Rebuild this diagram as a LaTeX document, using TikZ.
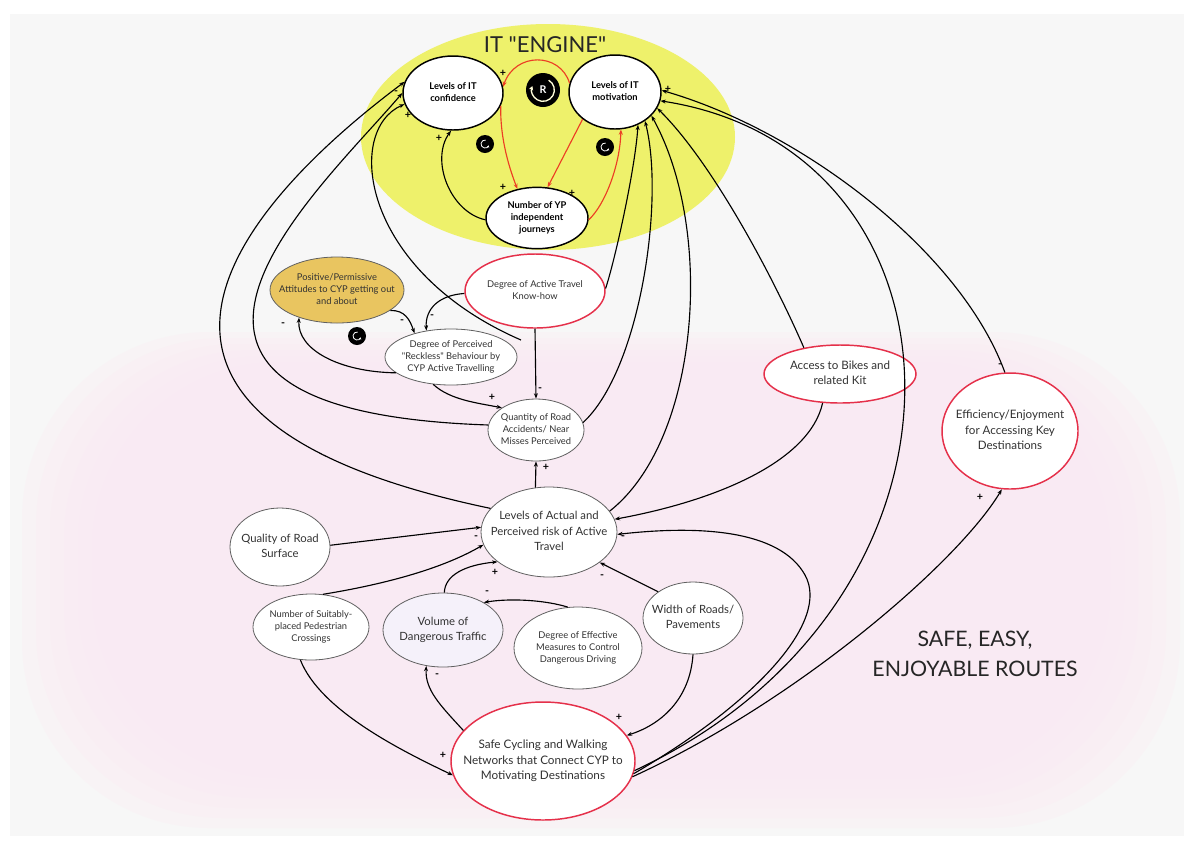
\documentclass[tikz,border=0pt]{standalone}
\usepackage{fontspec}
\setmainfont{Lato}[Ligatures=TeXOff]
\usetikzlibrary{arrows.meta,shapes.geometric}

\definecolor{paper}{RGB}{247,247,247}
\definecolor{pinkglow}{RGB}{252,234,243}
\definecolor{engineyellow}{RGB}{238,241,107}
\definecolor{loopred}{RGB}{236,62,36}
\definecolor{rimred}{RGB}{229,48,74}
\definecolor{goldfill}{RGB}{233,197,96}
\definecolor{lavfill}{RGB}{245,241,250}
\definecolor{inkgray}{RGB}{50,50,50}

% centred multi-line label that does not widen its ellipse
\newcommand{\nodetext}[1]{\makebox[0pt]{\begin{tabular}{@{}c@{}}#1\end{tabular}}}

\begin{document}
\begin{tikzpicture}[x=0.75pt,y=-0.75pt,
  var/.style={ellipse, draw=gray!75!black, line width=0.6pt, fill=white, inner sep=0pt,
              text=inkgray, font=\fontsize{7}{9}\selectfont},
  engine/.style={var, draw=black, line width=1.1pt, text=black, font=\fontsize{7}{9}\selectfont\bfseries},
  key/.style={var, draw=rimred, line width=1.1pt},
  link/.style={line width=0.85pt, black, -{Stealth[length=4pt,width=3pt]}},
  redlink/.style={link, draw=loopred},
  sign/.style={font=\fontsize{8}{8}\selectfont\bfseries, inner sep=0pt, text=black},
  loopbadge/.pic={
    \fill[black] (0,0) circle (6.75pt);
    \draw[white, line width=0.6pt, -{Stealth[length=1.6pt,width=1.8pt]}]
      (0,0) ++(80:3pt) arc[start angle=80, end angle=340, radius=3pt];
  },
  rbadge/.pic={
    \fill[black] (0,0) circle (12.75pt);
    \draw[white!85!yellow, line width=1pt, -{Stealth[length=3pt,width=3.4pt]}]
      (0,0) ++(60:8.5pt) arc[start angle=60, end angle=-200, radius=8.5pt];
    \node[text=white, font=\fontsize{8}{8}\selectfont\bfseries, inner sep=0pt] at (0,0) {R};
  },
]
\useasboundingbox (0,0) rectangle (1192,844);

% backdrop: paper, soft pink field, yellow engine zone
\fill[white] (0,0) rectangle (1192,844);
\fill[paper] (10,14) rectangle (1184,836);
\foreach \i in {0,...,5}
  \fill[pinkglow, opacity=0.3, rounded corners=140pt]
    (22+14*\i,332+6*\i) rectangle (1180-14*\i,828-10*\i);
\fill[engineyellow] (548,137) ellipse [x radius=140.25pt, y radius=84.75pt];

\node[font=\fontsize{16.5}{16.5}\selectfont, text=black!85, inner sep=0pt] (title) at (545,45) {IT "ENGINE"};
\node[font=\fontsize{16}{22.5}\selectfont, text=black!85, align=center, inner sep=0pt] (routes) at (975,654)
  {SAFE, EASY,\\ENJOYABLE ROUTES};

% ---------- variables ----------
\node[engine, minimum width=75pt, minimum height=55.5pt] (Conf) at (453,93) {\nodetext{Levels of IT\\confidence}};
\node[engine, minimum width=69pt, minimum height=55.5pt] (Mot) at (615,92) {\nodetext{Levels of IT\\motivation}};
\node[engine, minimum width=76.5pt, minimum height=46pt] (Jour) at (537,218) {\nodetext{Number of YP\\independent\\journeys}};

\node[var, fill=goldfill, minimum width=100.5pt, minimum height=49.5pt] (Att) at (337,290)
  {\nodetext{Positive/Permissive\\Attitudes to CYP getting out\\and about}};
\node[key, minimum width=105pt, minimum height=55.5pt] (Know) at (535,291)
  {\nodetext{Degree of Active Travel\\Know-how}};
\node[var, minimum width=99pt, minimum height=42pt] (Reck) at (451,357)
  {\nodetext{Degree of Perceived\\"Reckless" Behaviour by\\CYP Active Travelling}};
\node[var, minimum width=72pt, minimum height=46.5pt] (Acc) at (536,430)
  {\nodetext{Quantity of Road\\Accidents/ Near\\Misses Perceived}};
\node[var, font=\fontsize{8.5}{11.5}\selectfont, minimum width=102pt, minimum height=67.5pt] (Risk) at (549,532)
  {\nodetext{Levels of Actual and\\Perceived risk of Active\\Travel}};
\node[var, font=\fontsize{8.5}{11.5}\selectfont, minimum width=75pt, minimum height=58.5pt] (Surf) at (280,547)
  {\nodetext{Quality of Road\\Surface}};
\node[var, minimum width=87pt, minimum height=49.5pt] (Cross) at (311,627)
  {\nodetext{Number of Suitably-\\placed Pedestrian\\Crossings}};
\node[var, fill=lavfill, font=\fontsize{8.5}{11.5}\selectfont, minimum width=90pt, minimum height=55.5pt] (Vol) at (443,630)
  {\nodetext{Volume of\\Dangerous Traffic}};
\node[var, minimum width=96pt, minimum height=61.5pt] (Meas) at (578,648)
  {\nodetext{Degree of Effective\\Measures to Control\\Dangerous Driving}};
\node[var, font=\fontsize{8.5}{11.5}\selectfont, minimum width=75pt, minimum height=54pt] (Width) at (693,618)
  {\nodetext{Width of Roads/\\Pavements}};
\node[key, font=\fontsize{8.8}{11.5}\selectfont, minimum width=138pt, minimum height=88.5pt] (Net) at (543,761)
  {\nodetext{Safe Cycling and Walking\\Networks that Connect CYP to\\Motivating Destinations}};
\node[key, font=\fontsize{8.7}{11.5}\selectfont, minimum width=114pt, minimum height=43.5pt] (Bikes) at (840,374)
  {\nodetext{Access to Bikes and\\related Kit}};
\node[key, font=\fontsize{8.7}{11.5}\selectfont, minimum width=102pt, minimum height=87pt] (Eff) at (1010,431)
  {\nodetext{Efficiency/Enjoyment\\for Accessing Key\\Destinations}};

\coordinate (reckTail) at (521,340);

% loop badges
\pic at (543,90) {rbadge};
\pic at (485,144) {loopbadge};
\pic at (605,147) {loopbadge};
\pic at (357,336) {loopbadge};

% ---------- engine links ----------
\draw[redlink] (Mot.169) .. controls (560,52) and (515,52) .. (Conf.7);
\draw[redlink] (Conf.345) .. controls (500,140) and (510,170) .. (Jour.124);
\draw[redlink] (Mot.220) -- (Jour.71);
\draw[redlink] (Jour.358) .. controls (605,205) and (620,165) .. (Mot.279);
\draw[link] (Jour.182) .. controls (450,212) and (430,160) .. (Conf.267);

% ---------- into confidence ----------
\draw[link] (Risk.158) .. controls (20,410) and (280,175) .. (Conf.167);
\draw[link] (Acc.174) .. controls (71,411) and (320,190) .. (Conf.180);
\draw[link] (reckTail) .. controls (360,270) and (345,130) .. (Conf.193);

% ---------- into motivation ----------
\draw[link] (Know.2) .. controls (615,260) and (635,170) .. (Mot.305);
\draw[link] (Acc.9) .. controls (640,370) and (665,200) .. (Mot.316);
\draw[link] (Risk.19) .. controls (700,440) and (715,230) .. (Mot.327);
\draw[link] (Bikes.144) .. controls (770,270) and (710,160) .. (Mot.339);
\draw[link] (Eff.95) .. controls (960,250) and (800,130) .. (Mot.2);
\draw[link] (Net.-6) .. controls (1000,600) and (980,150) .. (Mot.349);

% ---------- network links ----------
\draw[link] (Net.-10) .. controls (800,700) and (960,560) .. (Eff.262);
\draw[link] (Net.-8) .. controls (760,700) and (830,620) .. (805,575)
                      .. controls (780,530) and (700,525) .. (Risk.-2);
\draw[link] (Width.south) .. controls (690,700) and (660,725) .. (Net.17);
\draw[link] (Cross.252) .. controls (320,710) and (400,750) .. (Net.189);
\draw[link] (Net.159) .. controls (440,705) and (425,690) .. (Vol.245);

% ---------- risk cluster ----------
\draw[link] (Bikes.239) .. controls (810,460) and (720,500) .. (Risk.11);
\draw[link] (Surf.2) -- (Risk.176);
\draw[link] (Cross.70) .. controls (380,585) and (440,570) .. (Risk.191);
\draw[link] (Vol.88) .. controls (445,575) and (465,565) .. (Risk.210);
\draw[link] (Meas.104) .. controls (545,600) and (510,598) .. (Vol.34);
\draw[link] (Width.143) -- (Risk.-31);
\draw[link] (Risk.107) -- (Acc.south);

% ---------- attitudes / behaviour ----------
\draw[link] (Know.south) -- (Acc.north);
\draw[link] (Reck.237) .. controls (450,400) and (478,403) .. (Acc.147);
\draw[link] (Reck.196) .. controls (340,372) and (297,350) .. (Att.216);
\draw[link] (Att.-21) .. controls (405,310) and (410,320) .. (Reck.147);
\draw[link] (Know.182) .. controls (440,295) and (425,308) .. (Reck.133);

% ---------- polarity marks ----------
\node[sign] (p1) at (503,73) {+};
\node[sign] (p2) at (439,138) {+};
\node[sign] (p3) at (503,187) {+};
\node[sign] (p4) at (572,193) {+};
\node[sign] (p5) at (396,93) {-};
\node[sign] (p6) at (408,115) {+};
\node[sign] (p7) at (283,325) {-};
\node[sign] (p8) at (402,322) {-};
\node[sign] (p9) at (432,317) {-};
\node[sign] (p10) at (492,397) {+};
\node[sign] (p11) at (540,390) {-};
\node[sign] (p12) at (546,467) {+};
\node[sign] (p13) at (476,538) {-};
\node[sign] (p14) at (495,572) {+};
\node[sign] (p15) at (602,577) {-};
\node[sign] (p16) at (487,593) {-};
\node[sign] (p17) at (437,676) {-};
\node[sign] (p18) at (623,538) {-};
\node[sign] (p19) at (619,717) {+};
\node[sign] (p20) at (443,755) {+};
\node[sign] (p21) at (1000,366) {-};
\node[sign] (p22) at (980,497) {+};
\node[sign] (p23) at (668,89) {+};
\end{tikzpicture}
\end{document}
